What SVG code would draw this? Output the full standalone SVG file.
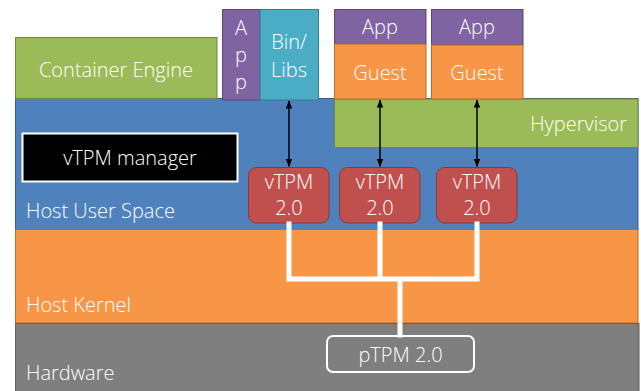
<svg xmlns="http://www.w3.org/2000/svg" width="641" height="391" viewBox="0 0 641 391">
  <defs>
    <marker id="ah" viewBox="0 0 8 8" refX="7.5" refY="4" markerWidth="8" markerHeight="8" markerUnits="userSpaceOnUse" orient="auto-start-reverse">
      <path d="M0,0.8 L8,4 L0,7.2 Z" fill="#000"/>
    </marker>
  </defs>
  <style>
    text { font-family: "Open Sans", "Noto Sans", "Liberation Sans", sans-serif; fill: #fff; font-size: 20px; font-weight: 300; }
    .c { text-anchor: middle; }
    .blue { fill: #4F81BD; stroke: #385D8A; stroke-width: 1; }
    .orange { fill: #F79646; stroke: #B66D31; stroke-width: 1; }
    .grey { fill: #7F7F7F; stroke: #5F5F5F; stroke-width: 1; }
    .green { fill: #9BBB59; stroke: #71893F; stroke-width: 1; }
    .purple { fill: #8064A2; stroke: #5C4776; stroke-width: 1; }
    .teal { fill: #4BACC6; stroke: #357D91; stroke-width: 1; }
    .red { fill: #C0504D; stroke: #8C3836; stroke-width: 1; }
    .arrow { stroke: #000; stroke-width: 1.5; fill: none; marker-start: url(#ah); marker-end: url(#ah); }
    .bus { stroke: #fff; stroke-width: 5; fill: none; stroke-linecap: square; }
  </style>

  <g id="host-user-space">
    <rect class="blue" x="15.5" y="98.5" width="622.5" height="131"/>
    <text x="26" y="218">Host User Space</text>
  </g>
  <g id="host-kernel">
    <rect class="orange" x="15.5" y="229.5" width="622.5" height="93.5"/>
    <text x="26" y="312">Host Kernel</text>
  </g>
  <g id="hardware">
    <rect class="grey" x="15.5" y="323.5" width="623.5" height="70"/>
    <text x="26" y="380">Hardware</text>
  </g>

  <g id="container-engine">
    <rect class="green" x="15.5" y="37.5" width="201.5" height="61"/>
    <text class="c" x="116" y="77">Container Engine</text>
  </g>
  <g id="app-container">
    <rect class="purple" x="222.5" y="9.5" width="37.5" height="90.5"/>
    <text class="c" x="241" y="35">A</text>
    <text class="c" x="241" y="62">p</text>
    <text class="c" x="241" y="89">p</text>
  </g>
  <g id="bin-libs">
    <rect class="teal" x="260" y="9.5" width="58.5" height="90.5"/>
    <text class="c" x="289" y="49">Bin/</text>
    <text class="c" x="289" y="77">Libs</text>
  </g>

  <g id="hypervisor">
    <rect class="green" x="334.5" y="99" width="303.5" height="48.5"/>
    <text x="627" y="131" text-anchor="end">Hypervisor</text>
  </g>
  <g id="app-1">
    <rect class="purple" x="334.5" y="9.5" width="91.5" height="34.5"/>
    <text class="c" x="380" y="34">App</text>
  </g>
  <g id="guest-1">
    <rect class="orange" x="334.5" y="44" width="91.5" height="55"/>
    <text class="c" x="380" y="80">Guest</text>
  </g>
  <g id="app-2">
    <rect class="purple" x="431.5" y="9.5" width="91.5" height="35.5"/>
    <text class="c" x="477" y="34">App</text>
  </g>
  <g id="guest-2">
    <rect class="orange" x="431.5" y="45" width="91.5" height="54"/>
    <text class="c" x="477" y="80">Guest</text>
  </g>

  <g id="vtpm-manager">
    <rect x="22.5" y="133.5" width="215" height="48" fill="#000" stroke="#fff" stroke-width="2"/>
    <text class="c" x="130" y="165">vTPM manager</text>
  </g>

  <g id="vtpm-1">
    <rect class="red" x="248.5" y="167.5" width="80.5" height="55.5" rx="8"/>
    <text class="c" x="289" y="189">vTPM</text>
    <text class="c" x="289" y="215">2.0</text>
  </g>
  <g id="vtpm-2">
    <rect class="red" x="339.5" y="167.5" width="80.5" height="55.5" rx="8"/>
    <text class="c" x="380" y="189">vTPM</text>
    <text class="c" x="380" y="215">2.0</text>
  </g>
  <g id="vtpm-3">
    <rect class="red" x="436.5" y="167.5" width="80.5" height="55.5" rx="8"/>
    <text class="c" x="477" y="189">vTPM</text>
    <text class="c" x="477" y="215">2.0</text>
  </g>

  <g id="ptpm">
    <rect x="327" y="336" width="147" height="36" rx="6" fill="#7F7F7F" stroke="#fff" stroke-width="2"/>
    <text class="c" x="400.5" y="362">pTPM 2.0</text>
  </g>

  <g id="connectors">
    <line class="arrow" x1="289" y1="101" x2="289" y2="166.5"/>
    <line class="arrow" x1="380" y1="100" x2="380" y2="166.5"/>
    <line class="arrow" x1="477" y1="100" x2="477" y2="166.5"/>
    <path class="bus" d="M289,224 V279 H477 V224 M380,224 V279 M400,279 V335"/>
  </g>
</svg>
